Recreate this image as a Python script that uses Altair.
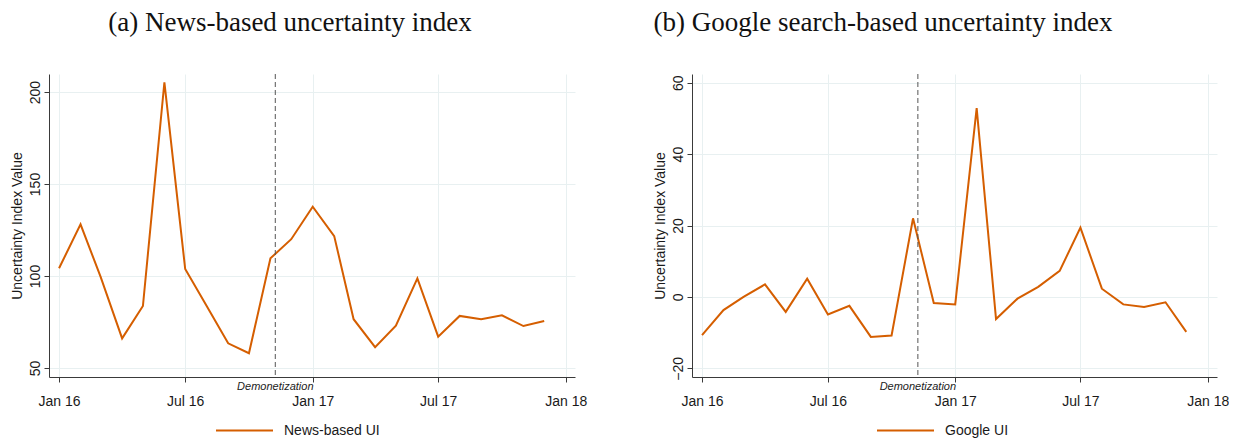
import altair as alt
import pandas as pd

# ---- data ----
months = [
    "2016-01-01", "2016-02-01", "2016-03-01", "2016-04-01", "2016-05-01", "2016-06-01",
    "2016-07-01", "2016-08-01", "2016-09-01", "2016-10-01", "2016-11-01", "2016-12-01",
    "2017-01-01", "2017-02-01", "2017-03-01", "2017-04-01", "2017-05-01", "2017-06-01",
    "2017-07-01", "2017-08-01", "2017-09-01", "2017-10-01", "2017-11-01", "2017-12-01",
]
news_ui = [104.2, 128.1, 99.5, 66.1, 83.7, 205.3, 103.8, 83.7, 63.4, 58.0, 109.6, 120.0,
           137.7, 121.7, 76.5, 61.3, 73.0, 98.7, 67.0, 78.3, 76.5, 78.6, 72.8, 75.5]
google_ui = [-10.7, -3.7, 0.0, 3.5, -4.2, 5.1, -4.9, -2.5, -11.2, -10.8, 22.0, -1.7,
             -2.1, 52.9, -6.2, -0.5, 2.8, 7.3, 19.4, 2.3, -2.1, -2.8, -1.5, -9.8]
demonetization_date = ["2016-11-08"]
demonetization_label = ["Demonetization"]
x_tick_dates = [(2016, 1), (2016, 7), (2017, 1), (2017, 7), (2018, 1)]
news_yticks = [50, 100, 150, 200]
google_yticks = [-20, 0, 20, 40, 60]
titles = ["(a) News-based uncertainty index", "(b) Google search-based uncertainty index"]
series_names = ["News-based UI", "Google UI"]
y_title = "Uncertainty Index Value"

ORANGE = "#D55E00"
GRID = "#e8f0f1"
AXIS = "#3a3a3a"
TXT = "#1a1a1a"
SANS = "Liberation Sans"


def panel(values, series, title, ydomain, yticks, width, title_dx, legend_x):
    height = 303
    df = pd.DataFrame({"date": months, "value": values, "series": series})
    ev = pd.DataFrame({"date": demonetization_date, "label": demonetization_label})

    xscale = alt.Scale(
        type="utc",
        domain=[
            alt.DateTime(year=2015, month=12, date=17, hours=12, utc=True),
            alt.DateTime(year=2018, month=1, date=14, hours=10, utc=True),
        ],
    )
    xaxis = alt.Axis(
        values=[alt.DateTime(year=y, month=m, date=1, utc=True) for y, m in x_tick_dates],
        format="%b %y",
        title=None,
        labelFlush=False,
        labelPadding=12,
        tickSize=5,
        grid=True,
        labelFont=SANS,
        labelFontSize=14,
        labelColor=TXT,
    )
    yaxis = alt.Axis(
        values=yticks,
        title=y_title,
        titleFont=SANS,
        titleFontSize=14,
        titleFontWeight="normal",
        titleColor=TXT,
        titleAngle=270,
        titleX=-32,
        titleY=height / 2,
        titleAlign="center",
        titleBaseline="middle",
        labelAngle=270,
        labelAlign="center",
        labelBaseline="alphabetic",
        labelPadding=5,
        labelFont=SANS,
        labelFontSize=14,
        labelColor=TXT,
        tickSize=5,
        grid=True,
    )

    line = alt.Chart(df).mark_line(strokeWidth=2).encode(
        x=alt.X("date:T", scale=xscale, axis=xaxis),
        y=alt.Y("value:Q", scale=alt.Scale(domain=ydomain, nice=False, zero=False), axis=yaxis),
        color=alt.Color(
            "series:N",
            scale=alt.Scale(range=[ORANGE]),
            legend=alt.Legend(
                orient="none",
                legendX=legend_x,
                legendY=height + 24,
                title=None,
                symbolType="stroke",
                symbolSize=3249,
                symbolStrokeWidth=2,
                labelFont=SANS,
                labelFontSize=14,
                labelColor=TXT,
                labelOffset=10,
            ),
        ),
    )
    rule = alt.Chart(ev).mark_rule(color="#555555", strokeWidth=1, strokeDash=[5, 3]).encode(
        x=alt.X("date:T", scale=xscale, axis=xaxis),
    )
    label = alt.Chart(ev).mark_text(
        font=SANS, fontSize=11, fontStyle="italic", color="#222222", baseline="middle", align="center"
    ).encode(
        x=alt.X("date:T", scale=xscale, axis=xaxis),
        y=alt.value(height + 10),
        text="label:N",
    )
    return alt.layer(line, rule, label).properties(
        width=width,
        height=height,
        title=alt.TitleParams(
            text=title,
            font="Liberation Serif",
            fontSize=27,
            fontWeight="normal",
            color="#111111",
            anchor="middle",
            frame="group",
            baseline="alphabetic",
            dx=title_dx,
            offset=16,
        ),
    )


left = panel(news_ui, series_names[0], titles[0], [45.1, 209.8], news_yticks, 526, -22, 166)
right = panel(google_ui, series_names[1], titles[1], [-22.44, 62.44], google_yticks, 525, -71.5, 184)

chart = (
    alt.hconcat(left, right, spacing=66)
    .resolve_scale(x="independent", y="independent", color="independent")
    .resolve_legend(color="independent")
    .properties(padding={"left": 2, "top": 0, "right": 0, "bottom": 0}, background="white")
    .configure_view(stroke=None)
    .configure_axis(
        domainColor=AXIS,
        tickColor=AXIS,
        gridColor=GRID,
        gridWidth=1,
    )
)

chart.save("out.html", embed_options={"renderer": "svg", "actions": False})
